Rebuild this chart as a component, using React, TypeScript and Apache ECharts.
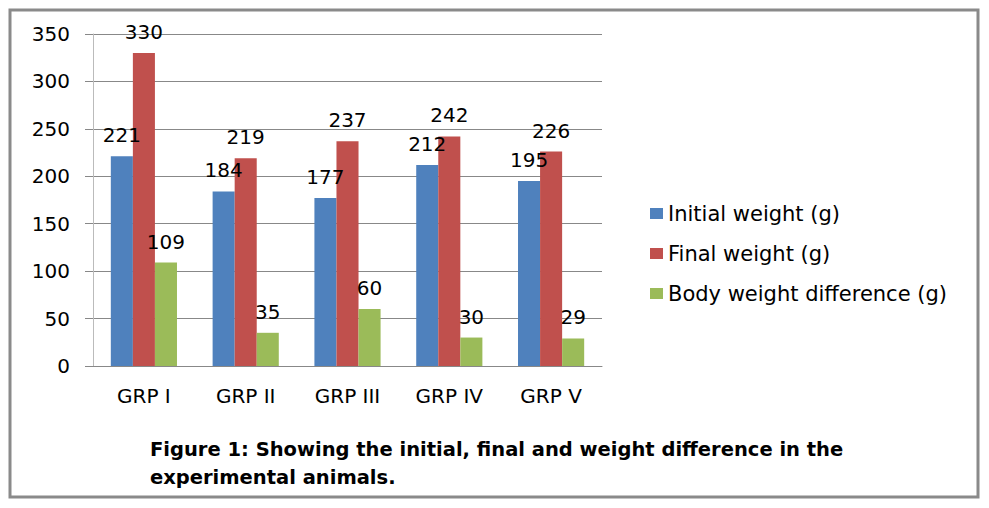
import React, { useEffect, useRef } from "react";
import * as echarts from "echarts";

const categories = ["GRP I", "GRP II", "GRP III", "GRP IV", "GRP V"];
const initialWeight = [221, 184, 177, 212, 195];
const finalWeight = [330, 219, 237, 242, 226];
const weightDifference = [109, 35, 60, 30, 29];
const seriesNames = ["Initial weight (g)", "Final weight (g)", "Body weight difference (g)"];
const captionLines = [
  "Figure 1: Showing the initial, final and weight difference in the",
  "experimental animals.",
];

const FONT = "'DejaVu Sans', sans-serif";

export default function App() {
  const ref = useRef<HTMLDivElement>(null);
  useEffect(() => {
    if (!ref.current) return;
    const chart = echarts.init(ref.current, undefined, { renderer: "svg" });
    const label = {
      show: true,
      position: "top" as const,
      distance: 11,
      color: "#000",
      fontSize: 20,
      fontFamily: FONT,
    };
    chart.setOption({
      animation: false,
      backgroundColor: "#fff",
      textStyle: { fontFamily: FONT },
      grid: { left: 93, right: 387, top: 34, bottom: 142, containLabel: false },
      legend: {
        orient: "vertical",
        left: 645,
        top: 198,
        itemWidth: 13,
        itemHeight: 11,
        itemGap: 19,
        icon: "rect",
        textStyle: { fontSize: 21, color: "#000", fontFamily: FONT },
        data: seriesNames,
      },
      xAxis: {
        type: "category",
        data: categories,
        axisLine: { show: true, lineStyle: { color: "#888", width: 1 } },
        axisTick: { show: false },
        axisLabel: { color: "#000", fontSize: 20, margin: 20, fontFamily: FONT },
      },
      yAxis: {
        type: "value",
        min: 0,
        max: 350,
        interval: 50,
        axisLine: { show: true, lineStyle: { color: "#bbb", width: 1 } },
        axisTick: { show: true, inside: false, length: 8, lineStyle: { color: "#888" } },
        axisLabel: { color: "#000", fontSize: 20, margin: 23, fontFamily: FONT },
        splitLine: { show: true, lineStyle: { color: "#888", width: 1 } },
      },
      series: [
        { name: seriesNames[0], type: "bar", data: initialWeight, itemStyle: { color: "#4F81BD" }, barGap: "0%", barCategoryGap: "35%", label },
        { name: seriesNames[1], type: "bar", data: finalWeight, itemStyle: { color: "#C0504D" }, barGap: "0%", barCategoryGap: "35%", label },
        { name: seriesNames[2], type: "bar", data: weightDifference, itemStyle: { color: "#9BBB59" }, barGap: "0%", barCategoryGap: "35%", label },
      ],
      graphic: [
        {
          type: "rect",
          shape: { x: 10, y: 10, width: 968, height: 487 },
          style: { fill: "none", stroke: "#8a8a8a", lineWidth: 3 },
          silent: true,
        },
        {
          type: "text",
          x: 150,
          y: 435,
          style: {
            text: captionLines.join("\n"),
            fontSize: 19.5,
            fontWeight: "bold",
            fontFamily: FONT,
            fill: "#000",
            lineHeight: 28,
          },
        },
      ],
    });
    return () => chart.dispose();
  }, []);
  return (
    <div
      ref={ref}
      style={{ position: "absolute", left: 0, top: 0, width: 989, height: 508 }}
    />
  );
}
